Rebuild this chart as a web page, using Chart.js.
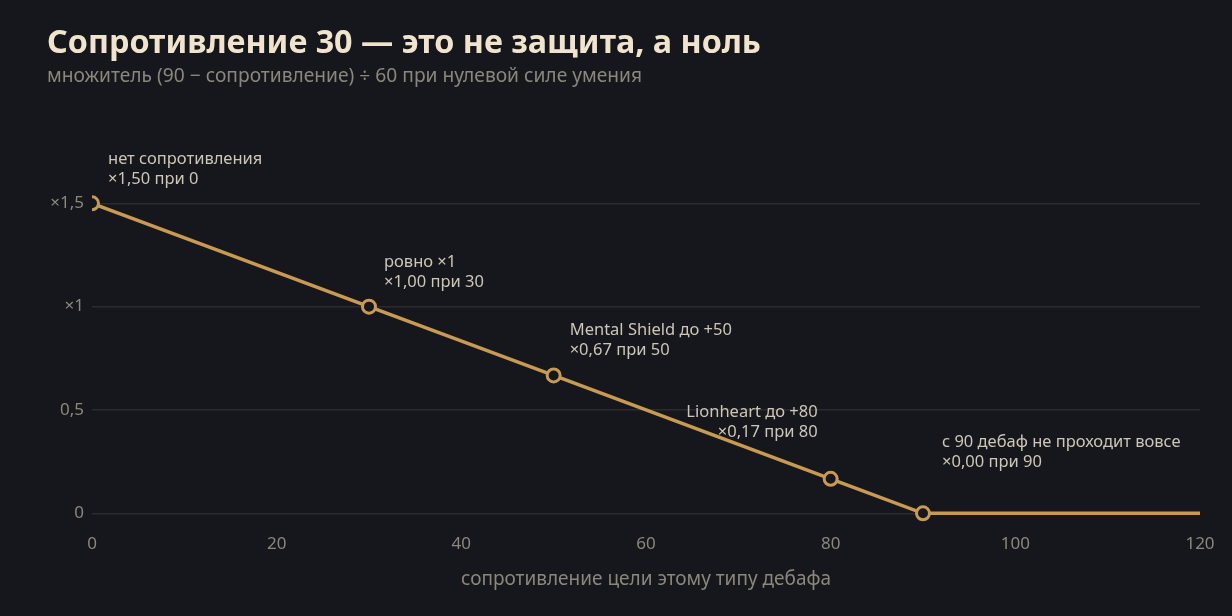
<!DOCTYPE html>
<html><head><meta charset="utf-8">
<script src="https://cdn.jsdelivr.net/npm/chart.js@4.4.1/dist/chart.umd.min.js"></script>
<style>
html,body{margin:0;padding:0;background:#16171c;}
#wrap{width:1232px;height:616px;position:relative;}
</style></head><body>
<div id="wrap"><canvas id="c" width="1232" height="616"></canvas></div>
<script>
const resistance = [0, 30, 50, 80, 90, 120];
const multiplier = [1.5, 1.0, 0.667, 0.167, 0, 0];
const markerNames = ["нет сопротивления", "ровно ×1", "Mental Shield до +50", "Lionheart до +80", "с 90 дебаф не проходит вовсе", null];
const yTicks = [0, 0.5, 1, 1.5];
const yTickLabels = ["0", "0,5", "×1", "×1,5"];
const xTicks = [0, 20, 40, 60, 80, 100, 120];

const titleText = "Сопротивление 30 — это не защита, а ноль";
const subtitleText = "множитель (90 − сопротивление) ÷ 60 при нулевой силе умения";
const xTitle = "сопротивление цели этому типу дебафа";

// label placement styles (offsets from the marker)
const labelStyle = [
  {dx: 16, dy: -44, align: 'left'},
  {dx: 15, dy: -44, align: 'left'},
  {dx: 16, dy: -45, align: 'left'},
  {dx: -13, dy: -66, align: 'right'},
  {dx: 19, dy: -71, align: 'left'},
  null
];

const GOLD = '#c99a52';
const BG = '#16171c';
const FONT = "'Noto Sans', 'Open Sans', sans-serif";

const annotate = {
  id: 'annotate',
  afterDatasetsDraw(chart) {
    const ctx = chart.ctx;
    const meta = chart.getDatasetMeta(0);
    ctx.save();
    ctx.font = "16.5px " + FONT;
    ctx.fillStyle = '#cdc6b6';
    ctx.textBaseline = 'middle';
    markerNames.forEach((name, i) => {
      if (!name) return;
      const st = labelStyle[i];
      const p = meta.data[i];
      const val = "×" + multiplier[i].toFixed(2).replace('.', ',') + " при " + resistance[i];
      ctx.textAlign = st.align;
      ctx.fillText(name, p.x + st.dx, p.y + st.dy);
      ctx.fillText(val, p.x + st.dx, p.y + st.dy + 20);
    });
    ctx.restore();
  }
};

const bgPlugin = {
  id: 'bg',
  beforeDraw(chart) {
    const ctx = chart.ctx;
    ctx.save();
    ctx.fillStyle = BG;
    ctx.fillRect(0, 0, chart.width, chart.height);
    ctx.restore();
  }
};

new Chart(document.getElementById('c'), {
  type: 'line',
  data: {
    datasets: [{
      data: resistance.map((r, i) => ({x: r, y: multiplier[i]})),
      borderColor: GOLD,
      borderWidth: 3.5,
      backgroundColor: BG,
      pointBackgroundColor: BG,
      pointBorderColor: GOLD,
      pointBorderWidth: 3,
      pointRadius: markerNames.map(n => n ? 6.5 : 0),
      pointHoverRadius: markerNames.map(n => n ? 6.5 : 0),
      tension: 0,
      fill: false,
      clip: {left: 0, top: false, right: 0, bottom: false}
    }]
  },
  plugins: [bgPlugin, annotate],
  options: {
    responsive: false,
    animation: false,
    devicePixelRatio: 1,
    layout: {padding: {left: 47, right: 32, top: 24, bottom: 25.5}},
    plugins: {
      legend: {display: false},
      tooltip: {enabled: false},
      title: {
        display: true, text: titleText, align: 'start', color: '#f0e4cc',
        font: {family: FONT, size: 32.3, weight: 'bold'},
        padding: {top: 0, bottom: 2}
      },
      subtitle: {
        display: true, text: subtitleText, align: 'start', color: '#8b877c',
        font: {family: FONT, size: 19.2},
        padding: {top: 0, bottom: 53.5}
      }
    },
    scales: {
      x: {
        type: 'linear', min: 0, max: 120,
        afterBuildTicks(scale) { scale.ticks = xTicks.map(v => ({value: v})); },
        ticks: {color: '#8b877c', font: {family: FONT, size: 17}, padding: 13, maxRotation: 0},
        grid: {display: false},
        border: {display: false},
        title: {display: true, text: xTitle, color: '#8b877c', font: {family: FONT, size: 19}, padding: {top: 0, bottom: 0}}
      },
      y: {
        type: 'linear', min: 0, max: 1.8,
        afterBuildTicks(scale) { scale.ticks = yTicks.map(v => ({value: v})); },
        afterFit(scale) { scale.width = 45; },
        ticks: {
          color: '#8b877c', font: {family: FONT, size: 17}, padding: 8,
          callback(v) { const i = yTicks.indexOf(v); return i >= 0 ? yTickLabels[i] : ''; }
        },
        grid: {color: '#2a2b31', lineWidth: 1.5, drawTicks: false},
        border: {display: false}
      }
    }
  }
});
</script>
</body></html>
